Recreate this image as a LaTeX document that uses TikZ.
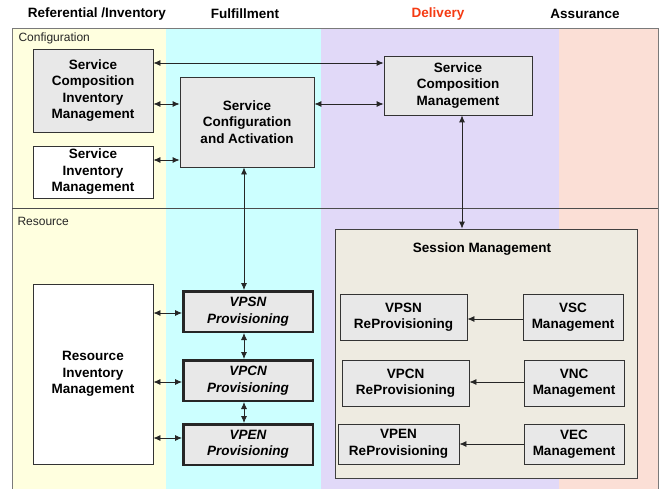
\documentclass[tikz,border=0pt]{standalone}
\usepackage{fontspec}
\setmainfont{Liberation Sans}
\usetikzlibrary{arrows.meta}
\definecolor{bandY}{HTML}{FFFFDF}
\definecolor{bandC}{HTML}{CCFFFF}
\definecolor{bandP}{HTML}{E1D9F8}
\definecolor{bandR}{HTML}{FBDFD6}
\definecolor{sessbg}{HTML}{EEEBE1}
\definecolor{boxgray}{HTML}{E8E8E8}
\definecolor{deliv}{HTML}{F53A12}
\definecolor{framec}{HTML}{7A7A7A}
\tikzset{
  lbl/.style={font=\fontsize{13.5}{16.5}\selectfont\bfseries, align=center},
  small/.style={font=\fontsize{12}{14}\selectfont, anchor=west, text=black!85},
  gbox/.style={draw=black!80, line width=0.8pt, fill=boxgray, lbl, inner sep=0pt},
  wbox/.style={draw=black!80, line width=0.8pt, fill=white, lbl, inner sep=0pt},
  pbox/.style={draw=black!85, line width=2.5pt, fill=boxgray, inner sep=0pt, align=center,
     font=\fontsize{13.5}{16.5}\selectfont\bfseries\itshape},
  conn/.style={line width=0.8pt, black!85},
  dbl/.style={conn, {Latex[length=7pt,width=6pt]}-{Latex[length=7pt,width=6pt]}},
  sgl/.style={conn, -{Latex[length=7pt,width=6pt]}},
}
\begin{document}
\begin{tikzpicture}[x=1pt,y=-1pt]
\useasboundingbox (0,0) rectangle (660,489);
\fill[white] (0,0) rectangle (660,489);
% bands
\fill[bandY] (12,28) rectangle (166,489);
\fill[bandC] (166,28) rectangle (321,489);
\fill[bandP] (321,28) rectangle (559,489);
\fill[bandR] (559,28) rectangle (658,489);
\draw[framec, line width=0.9pt] (12,489) -- (12,28) -- (658,28) -- (658,489);
\draw[black!70, line width=0.9pt] (12,208) -- (658,208);
% headers
\node[lbl] (hRef) at (97,14) {Referential /Inventory};
\node[lbl] (hFul) at (245,14) {Fulfillment};
\node[lbl, text=deliv] (hDel) at (438,14) {Delivery};
\node[lbl] (hAss) at (585,14) {Assurance};
\node[small] (lConf) at (15,38) {Configuration};
\node[small] (lRes) at (14,221) {Resource};
% configuration boxes
\node[gbox, minimum width=120pt, minimum height=83pt] (scim) at (93,90.5) {Service\\Composition\\Inventory\\Management};
\node[wbox, minimum width=120pt, minimum height=52pt] (sim) at (93,172) {Service\\Inventory\\Management};
\node[gbox, minimum width=134pt, minimum height=90pt] (sca) at (247,122) {Service\\Configuration\\and Activation};
\node[gbox, minimum width=148pt, minimum height=59pt] (scm) at (458,85.5) {Service\\Composition\\Management};
% resource boxes
\node[wbox, minimum width=120pt, minimum height=180pt] (rim) at (93,374) {Resource\\Inventory\\Management};
\node[pbox, minimum width=129.5pt, minimum height=40.5pt] (vpsn) at (248,311.5) {VPSN\\Provisioning};
\node[pbox, minimum width=129.5pt, minimum height=40.5pt] (vpcn) at (248,380.5) {VPCN\\Provisioning};
\node[pbox, minimum width=129.5pt, minimum height=40.5pt] (vpen) at (248,444.5) {VPEN\\Provisioning};
% session management
\node[draw=black!75, line width=0.8pt, fill=sessbg, minimum width=302pt, minimum height=249pt, inner sep=0pt] (sess) at (486,353.5) {};
\node[lbl] (sessT) at (482,249) {Session Management};
\node[gbox, minimum width=127pt, minimum height=46pt] (vpsnr) at (403.5,317) {VPSN\\ReProvisioning};
\node[gbox, minimum width=100pt, minimum height=46pt] (vsc) at (573,317) {VSC\\Management};
\node[gbox, minimum width=127pt, minimum height=46pt] (vpcnr) at (405.5,383) {VPCN\\ReProvisioning};
\node[gbox, minimum width=100pt, minimum height=46pt] (vnc) at (574,383) {VNC\\Management};
\node[gbox, minimum width=121pt, minimum height=40pt] (vpenr) at (398.5,444) {VPEN\\ReProvisioning};
\node[gbox, minimum width=100pt, minimum height=40pt] (vec) at (574,444) {VEC\\Management};
% connectors
\draw[dbl] ([yshift=27.5pt]scim.east) -- ([yshift=27.5pt]scim.east -| scm.west);
\draw[dbl] ([yshift=-13.5pt]scim.east) -- ([yshift=-13.5pt]scim.east -| sca.west);
\draw[dbl] ([yshift=12pt]sim.east) -- ([yshift=12pt]sim.east -| sca.west);
\draw[dbl] ([yshift=18pt]sca.east) -- ([yshift=18pt]sca.east -| scm.west);
\draw[dbl] ([xshift=-3pt]sca.south) -- ([xshift=-3pt]sca.south |- vpsn.north);
\draw[dbl] ([xshift=4pt]scm.south) -- ([xshift=4pt]scm.south |- sess.north);
\draw[dbl] ([yshift=-1.5pt]vpsn.west -| rim.east) -- ([yshift=-1.5pt]vpsn.west);
\draw[dbl] ([yshift=-1.5pt]vpcn.west -| rim.east) -- ([yshift=-1.5pt]vpcn.west);
\draw[dbl] ([yshift=6.5pt]vpen.west -| rim.east) -- ([yshift=6.5pt]vpen.west);
\draw[dbl] ([xshift=-4pt]vpsn.south) -- ([xshift=-4pt]vpsn.south |- vpcn.north);
\draw[dbl] ([xshift=-4pt]vpcn.south) -- ([xshift=-4pt]vpcn.south |- vpen.north);
\draw[sgl] ([yshift=-2pt]vsc.west) -- ([yshift=-2pt]vsc.west -| vpsnr.east);
\draw[sgl] ([yshift=1pt]vnc.west) -- ([yshift=1pt]vnc.west -| vpcnr.east);
\draw[sgl] (vec.west) -- (vec.west -| vpenr.east);
\end{tikzpicture}
\end{document}
